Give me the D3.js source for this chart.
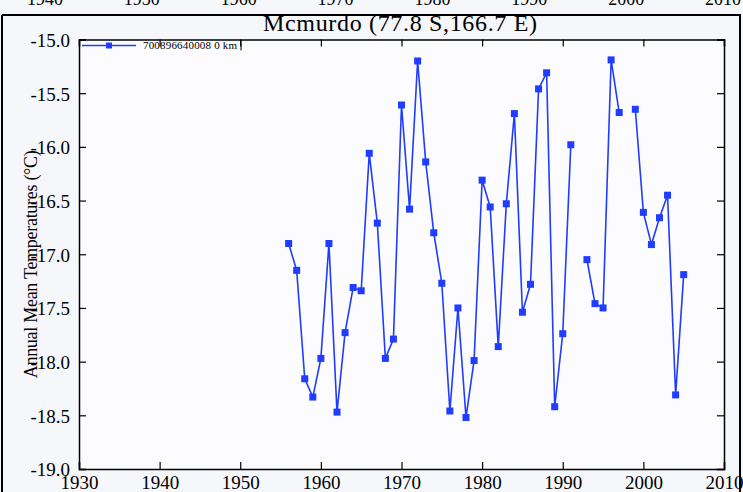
<!DOCTYPE html>
<html>
<head>
<meta charset="utf-8">
<script src="https://cdn.jsdelivr.net/npm/d3@7"></script>
<style>
  body { margin: 0; background: #ffffff; }
  svg { display: block; font-family: "Liberation Serif", "DejaVu Serif", serif; }
</style>
</head>
<body>
<svg width="743" height="492"></svg>
<script>
// annual means, McMurdo station (gaps = missing years)
var years = [1956, 1957, 1958, 1959, 1960, 1961, 1962, 1963, 1964, 1965,
             1966, 1967, 1968, 1969, 1970, 1971, 1972, 1973, 1974, 1975,
             1976, 1977, 1978, 1979, 1980, 1981, 1982, 1983, 1984, 1985,
             1986, 1987, 1988, 1989, 1990, 1991, 1992, 1993, 1994, 1995,
             1996, 1997, 1998, 1999, 2000, 2001, 2002, 2003, 2004, 2005];
var temps = [-16.90, -17.15, -18.16, -18.33, -17.97, -16.90, -18.47, -17.73, -17.31, -17.34,
             -16.06, -16.71, -17.97, -17.79, -15.61, -16.58, -15.20, -16.14, -16.80, -17.27,
             -18.46, -17.50, -18.52, -17.99, -16.31, -16.56, -17.86, -16.53, -15.69, -17.54,
             -17.28, -15.46, -15.31, -18.42, -17.74, -15.98, null, -17.05, -17.46, -17.50,
             -15.19, -15.68, null, -15.65, -16.61, -16.91, -16.66, -16.45, -18.31, -17.19];
var xTicks = [1930, 1940, 1950, 1960, 1970, 1980, 1990, 2000, 2010];
var yTicks = [-15.0, -15.5, -16.0, -16.5, -17.0, -17.5, -18.0, -18.5, -19.0];
var prevTicks = [1940, 1950, 1960, 1970, 1980, 1990, 2000, 2010]; // cut-off labels of the chart above
var title = "Mcmurdo (77.8 S,166.7 E)";
var yTitle = "Annual Mean Temperatures (°C)";
var legendLabel = "700896640008  0 km";

var data = years.map(function(y, i) { return {year: y, temp: temps[i]}; });

var svg = d3.select('svg');
var color = '#1f3cff';

var margin = {top: 39.5, right: 19, bottom: 23, left: 79},
    width = 743 - margin.left - margin.right,
    height = 492 - margin.top - margin.bottom;

svg.append('rect')
    .attr('width', 743).attr('height', 492)
    .attr('fill', '#f6f7fb');

// strip of the previous chart, cut at the top
var xPrev = d3.scaleLinear().domain([1940, 2010]).range([45, 723]);
svg.selectAll('.prev')
    .data(prevTicks)
    .enter().append('text')
    .attr('x', function(d) { return xPrev(d); })
    .attr('y', 5)
    .attr('text-anchor', 'middle')
    .attr('font-size', 18)
    .text(function(d) { return d; });

// page frame
svg.append('line').attr('x1', 2).attr('x2', 741).attr('y1', 15).attr('y2', 15)
    .attr('stroke', '#000').attr('stroke-width', 2);
svg.append('line').attr('x1', 2).attr('x2', 2).attr('y1', 15).attr('y2', 492)
    .attr('stroke', '#000').attr('stroke-width', 2);
svg.append('line').attr('x1', 740).attr('x2', 740).attr('y1', 15).attr('y2', 492)
    .attr('stroke', '#000').attr('stroke-width', 2);

svg.append('text')
    .attr('x', 400).attr('y', 31)
    .attr('text-anchor', 'middle')
    .attr('font-size', 24)
    .attr('textLength', 274)
    .text(title);

var g = svg.append('g')
    .attr('transform', 'translate(' + margin.left + ',' + margin.top + ')');

var x = d3.scaleLinear().domain([1930, 2010]).range([0, width]);
var y = d3.scaleLinear().domain([-19, -15]).range([height, 0]);

g.append('rect')
    .attr('width', width).attr('height', height)
    .attr('fill', '#fcfcfe');

var fmt = function(d) { return d.toFixed(1); };

var xAxis = g.append('g')
    .attr('transform', 'translate(0,' + height + ')')
    .call(d3.axisBottom(x).tickValues(xTicks).tickSize(-7).tickPadding(7).tickFormat(d3.format('d')));
g.append('g')
    .call(d3.axisTop(x).tickValues(xTicks).tickSize(-7).tickFormat(''));
var yAxis = g.append('g')
    .call(d3.axisLeft(y).tickValues(yTicks).tickSize(-7).tickPadding(9).tickFormat(fmt));
g.append('g')
    .attr('transform', 'translate(' + width + ',0)')
    .call(d3.axisRight(y).tickValues(yTicks).tickSize(-7).tickFormat(''));

g.selectAll('.domain').attr('stroke', '#000').attr('stroke-width', 1.5);
g.selectAll('.tick line').attr('stroke', '#000').attr('stroke-width', 1.2);
g.selectAll('.tick text')
    .attr('font-family', '"Liberation Serif", serif')
    .attr('font-size', 19)
    .attr('fill', '#000');
yAxis.selectAll('.tick text').attr('dy', '0.36em');

svg.append('text')
    .attr('transform', 'translate(37,' + (margin.top + height / 2 + 10) + ') rotate(-90)')
    .attr('text-anchor', 'middle')
    .attr('font-size', 18)
    .attr('textLength', 228)
    .text(yTitle);

var line = d3.line()
    .defined(function(d) { return d.temp !== null; })
    .x(function(d) { return x(d.year); })
    .y(function(d) { return y(d.temp); });

g.append('path')
    .datum(data)
    .attr('fill', 'none')
    .attr('stroke', color)
    .attr('stroke-width', 1.6)
    .attr('d', line);

g.selectAll('.pt')
    .data(data.filter(function(d) { return d.temp !== null; }))
    .enter().append('rect')
    .attr('class', 'pt')
    .attr('x', function(d) { return x(d.year) - 3.5; })
    .attr('y', function(d) { return y(d.temp) - 3.5; })
    .attr('width', 7).attr('height', 7)
    .attr('fill', color);

// legend
var lg = svg.append('g').attr('transform', 'translate(82,45.5)');
lg.append('line').attr('x1', 0).attr('x2', 54).attr('stroke', color).attr('stroke-width', 1.6);
lg.append('rect').attr('x', 24).attr('y', -3).attr('width', 6).attr('height', 6).attr('fill', color);
lg.append('text').attr('x', 61).attr('y', 3.5).attr('font-size', 11)
    .attr('textLength', 94).text(legendLabel);
lg.append('line').attr('x1', 159).attr('x2', 159).attr('y1', -5).attr('y2', 5)
    .attr('stroke', '#000').attr('stroke-width', 1);
</script>
</body>
</html>
